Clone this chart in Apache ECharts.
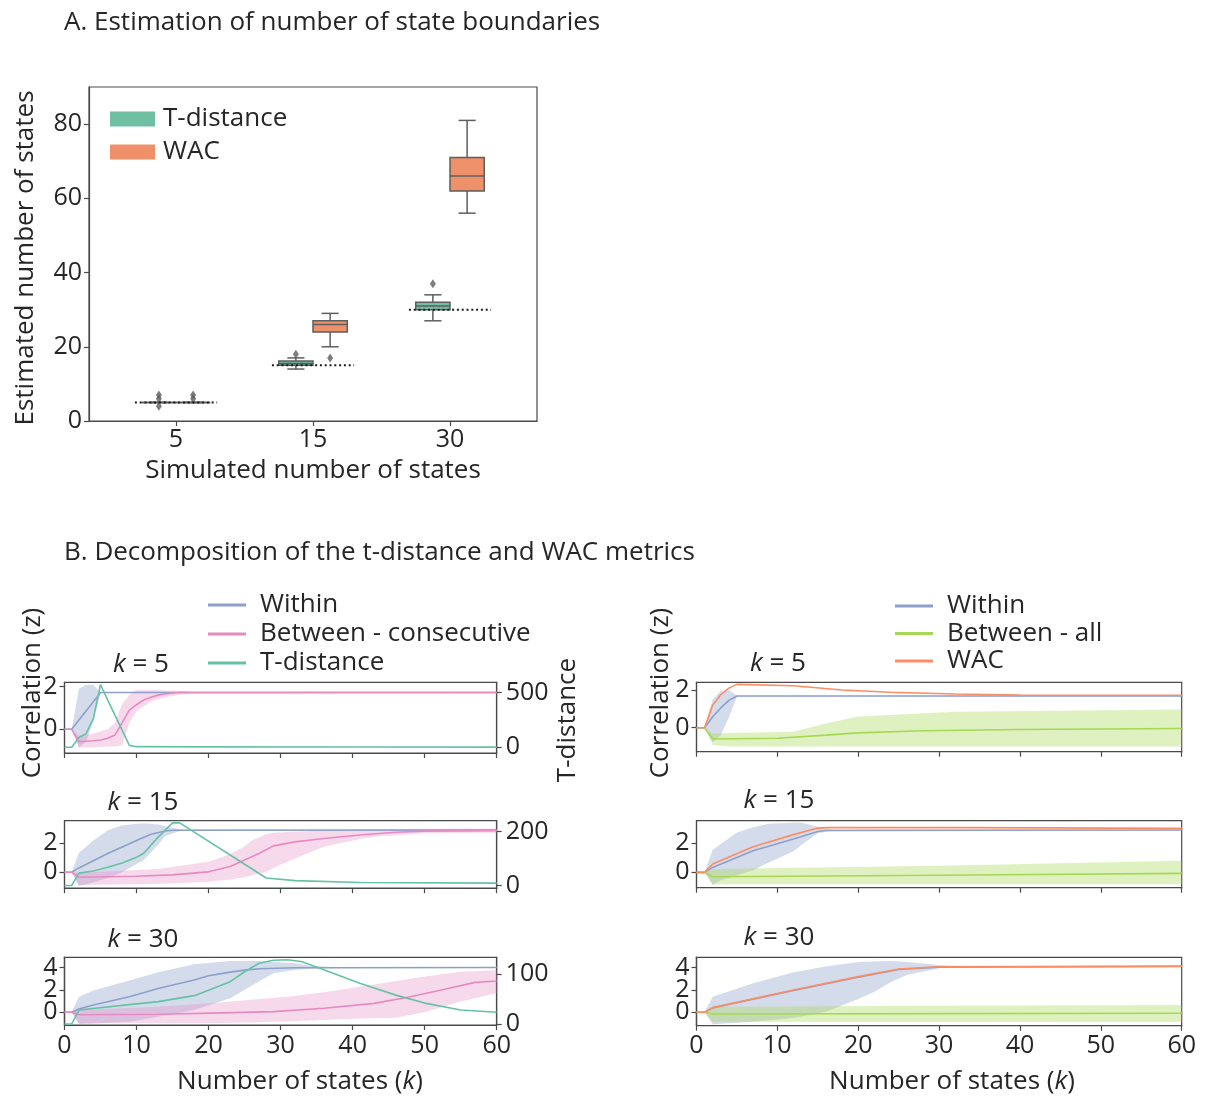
<!DOCTYPE html>
<html>
<head>
<meta charset="utf-8">
<script src="https://cdn.jsdelivr.net/npm/echarts@6/dist/echarts.min.js"></script>
<style>
  html, body { margin: 0; padding: 0; background: #ffffff; }
  #chart { width: 1208px; height: 1098px; }
</style>
</head>
<body>
<div id="chart"></div>
<script>
// ---------- Panel A: estimated number of states ----------
const simulatedStates = ['5', '15', '30'];
const trueStates = [5, 15, 30];
// box statistics per simulated count: [min, Q1, median, Q3, max]
const tdistBoxes = [[5, 5, 5, 5, 5], [14, 15, 15.5, 16.2, 17], [27, 30, 31, 32, 34]];
const wacBoxes = [[5, 5, 5, 5, 5], [20, 24, 26, 27, 29], [56, 62, 66, 71, 81]];
const tdistOutliers = [[4, 6, 7], [18], [37]];
const wacOutliers = [[6, 7], [17], []];
const stateTicks = [0, 20, 40, 60, 80];

// ---------- Panel B: decomposition, [k, value]; bands are [k, lower, upper] ----------
const kTicks = [0, 10, 20, 30, 40, 50, 60];
const corrTicksSmall = [0, 2];
const corrTicksOuter = [0, 4];
const corrTicksMiddle = [2];
const tdistTicks5 = [0, 500];
const tdistTicks15 = [0, 200];
const tdistTicks30 = [0, 100];

// t-distance side, k = 5
const within5 = [[0, 0], [1, 0], [2, 0.43], [3, 0.86], [4, 1.29], [5, 1.72], [60, 1.72]];
const within5Band = [[1, 0, 0], [2, -0.85, 1.9], [3, -0.6, 2.08], [4, 0.4, 2.08], [5, 1.72, 1.72], [60, 1.72, 1.72]];
const consec5 = [[0, 0], [1, 0], [2, -0.58], [3, -0.56], [4, -0.54], [5, -0.5], [6, -0.42], [7, -0.27], [8, 0.3], [9, 0.9], [10, 1.15], [11, 1.37], [12, 1.5], [13, 1.6], [14, 1.66], [15, 1.7], [16, 1.72], [60, 1.72]];
const consec5Band = [[1, 0, 0], [2, -0.85, -0.3], [4, -0.85, -0.2], [6, -0.8, 0.0], [7, -0.8, 0.3], [8, -0.75, 1.2], [9, 0.3, 1.6], [10, 0.85, 1.85], [12, 1.3, 1.85], [14, 1.5, 1.82], [16, 1.62, 1.8], [18, 1.68, 1.76], [60, 1.69, 1.75]];
const tdist5 = [[0, 0], [1, 0], [2, 90], [3, 125], [4, 260], [5, 575], [6, 432], [7, 295], [8, 157], [9, 18], [10, 6], [20, 4], [40, 3], [60, 2]];

// t-distance side, k = 15
const within15 = [[0, 0], [1, 0], [2, 0.3], [4, 0.8], [6, 1.3], [8, 1.75], [10, 2.2], [12, 2.62], [14, 2.85], [15, 2.9], [60, 2.92]];
const within15Band = [[1, 0, 0], [2, -0.95, 1.35], [4, -0.7, 2.2], [6, -0.4, 2.9], [8, 0, 3.25], [11, 0.85, 3.38], [13, 1.9, 3.3], [14, 2.5, 3.18], [16, 2.85, 2.95], [60, 2.88, 2.95]];
const consec15 = [[0, 0], [1, 0], [2, -0.34], [10, -0.28], [15, -0.18], [20, 0.03], [23, 0.4], [27, 1.3], [29, 1.82], [32, 2.1], [36, 2.33], [41, 2.57], [46, 2.76], [50, 2.84], [60, 2.87]];
const consec15Band = [[1, 0, 0], [2, -0.88, -0.03], [13, -0.81, 0.23], [20, -0.65, 0.73], [23, -0.5, 1.25], [25, -0.34, 1.8], [26, -0.2, 2.2], [28, 0.03, 2.62], [29, 0.3, 2.73], [32, 0.95, 2.8], [36, 1.77, 2.88], [41, 2.3, 2.96], [43, 2.46, 2.98], [50, 2.69, 3.0], [60, 2.73, 3.03]];
const tdist15 = [[0, 0], [1, 0], [2, 46], [4, 54], [6, 68], [8, 84], [10, 105], [11, 120], [13, 180], [15, 233], [16, 233], [28, 28], [32, 18], [41, 11], [60, 9]];

// t-distance side, k = 30
const within30 = [[0, 0], [1, 0], [2, 0.3], [4, 0.65], [9, 1.4], [13, 2.14], [18, 2.89], [20, 3.28], [23, 3.6], [25, 3.78], [27, 3.9], [32, 3.99], [60, 4.02]];
const within30Band = [[1, 0, 0], [2, -1.05, 1.4], [4, -1.0, 1.95], [9, -0.85, 2.85], [13, -0.4, 3.6], [18, 0.2, 4.3], [23, 1.25, 4.6], [27, 2.75, 4.6], [29, 3.5, 4.5], [32, 3.8, 4.4], [34, 3.9, 4.2], [37, 3.95, 4.05], [60, 3.98, 4.05]];
const consec30 = [[0, 0], [1, 0], [2, -0.22], [13, -0.18], [22, -0.05], [29, 0.06], [36, 0.36], [43, 0.8], [48, 1.4], [52, 1.95], [57, 2.68], [60, 2.8]];
const consec30Band = [[1, 0, 0], [2, -0.99, 0.2], [13, -0.99, 0.5], [22, -0.95, 0.9], [27, -0.9, 1.2], [31, -0.8, 1.4], [36, -0.69, 1.8], [41, -0.55, 2.3], [46, -0.48, 2.8], [50, 0, 3.2], [55, 0.96, 3.63], [60, 1.7, 3.78]];
const tdist30 = [[0, 0], [1, 0], [2, 28], [9, 39], [13, 45], [18, 57], [20, 68], [23, 85], [25, 105], [27, 122], [29, 128], [31, 129], [33, 125], [36, 109], [41, 82], [46, 58], [50, 42], [55, 28], [60, 23.5]];

// WAC side, k = 5
const withinW5 = [[0, 0], [1, 0], [2, 0.58], [3, 1.05], [4, 1.45], [5, 1.68], [60, 1.68]];
const withinW5Band = [[1, 0, 0], [2, -0.75, 1.5], [3, -0.4, 1.95], [4, 0.55, 2.0], [5, 1.66, 1.7], [60, 1.66, 1.7]];
const betweenAll5 = [[0, 0], [1, 0], [2, -0.6], [10, -0.56], [16, -0.39], [20, -0.27], [28, -0.16], [40, -0.09], [60, -0.04]];
const betweenAll5Band = [[1, 0, 0], [2, -0.92, -0.3], [4, -1.0, -0.28], [12, -1.0, -0.21], [16, -1.0, 0.23], [20, -1.0, 0.59], [32, -1.0, 0.85], [60, -1.0, 0.97]];
const wac5 = [[0, 0], [1, 0], [2, 1.2], [3, 1.75], [4, 2.1], [5, 2.3], [12, 2.23], [18, 2.0], [24, 1.88], [32, 1.79], [40, 1.73], [60, 1.72]];

// WAC side, k = 15
const withinW15 = [[0, 0], [1, 0], [2, 0.34], [7, 1.49], [12, 2.3], [15, 2.82], [16, 2.88], [60, 2.92]];
const withinW15Band = [[1, 0, 0], [2, -0.88, 1.55], [3, -0.55, 1.95], [5, -0.2, 2.75], [7, 0.15, 3.1], [9, 0.7, 3.35], [12, 1.45, 3.42], [13, 1.9, 3.42], [15, 2.7, 3.15], [17, 2.88, 2.95], [60, 2.88, 2.95]];
const betweenAll15 = [[0, 0], [1, 0], [2, -0.3], [30, -0.2], [60, -0.07]];
const betweenAll15Band = [[1, 0, 0], [2, -0.83, 0.23], [30, -0.83, 0.45], [60, -0.83, 0.8]];
const wac15 = [[0, 0], [1, 0], [2, 0.57], [7, 1.77], [12, 2.6], [15, 3.05], [16, 3.08], [33, 3.08], [60, 3.03]];

// WAC side, k = 30
const withinW30 = [[0, 0], [1, 0], [2, 0.4], [12, 1.95], [20, 3.15], [25, 3.83], [30, 4.05], [60, 4.1]];
const withinW30Band = [[1, 0, 0], [2, -1.08, 1.4], [7, -0.85, 2.6], [12, -0.5, 3.6], [16, 0.05, 4.1], [20, 1.2, 4.5], [22, 1.85, 4.55], [24, 2.7, 4.6], [26, 3.35, 4.5], [30, 3.95, 4.25], [33, 4.02, 4.12], [60, 4.05, 4.12]];
const betweenAll30 = [[0, 0], [1, 0], [2, -0.15], [30, -0.12], [60, -0.08]];
const betweenAll30Band = [[1, 0, 0], [2, -0.84, 0.5], [30, -0.84, 0.58], [60, -0.84, 0.66]];
const wac30 = [[0, 0], [1, 0], [2, 0.42], [12, 2.0], [20, 3.2], [25, 3.88], [30, 4.08], [60, 4.14]];

// ---------- styling ----------
const FONT = 'Open Sans';
const TEXT = '#262626';
const FRAME = '#4a4a4a';
const BOX_EDGE = '#5e5e5e';
const C_GREEN_BOX = '#6fc0a3';
const C_ORANGE_BOX = '#ee9069';
const C_WITHIN = '#8da0cb';
const C_CONSEC = '#e78ac3';
const C_TDIST = '#66c2a5';
const C_BETWEEN = '#a6d854';
const C_WAC = '#fc8d62';
const BOX_HALF = 0.25;

function rgba(hex, a) {
  const n = parseInt(hex.slice(1), 16);
  return `rgba(${(n >> 16) & 255},${(n >> 8) & 255},${n & 255},${a})`;
}

// grid geometry: [left, top, width, height]
const gridRects = [
  [89, 87, 448, 334],          // A
  [64.5, 682.3, 432.2, 70.7],  // t-distance, k = 5
  [64.5, 820.7, 432.2, 67.5],  // t-distance, k = 15
  [64.5, 957.3, 432.2, 67.7],  // t-distance, k = 30
  [696.5, 682.3, 485.2, 69.4], // WAC, k = 5
  [696.5, 820.7, 485.2, 67],   // WAC, k = 15
  [696.5, 957.3, 485.2, 68.4]  // WAC, k = 30
];

const grids = gridRects.map(r => ({
  left: r[0], top: r[1], width: r[2], height: r[3],
  show: true, borderColor: FRAME, borderWidth: 1.2, backgroundColor: 'transparent',
  containLabel: false
}));

const tickStyle = { show: true, inside: false, length: 5, lineStyle: { color: FRAME, width: 1.2 } };
const lineAxis = { show: true, onZero: false, lineStyle: { color: FRAME, width: 1.2 } };
const labelBase = { color: TEXT, fontFamily: FONT, fontSize: 25, hideOverlap: false };

function kAxis(gridIndex, showLabels) {
  return {
    type: 'value', gridIndex, min: 0, max: 60,
    axisLine: lineAxis,
    axisTick: Object.assign({}, tickStyle, { customValues: kTicks }),
    axisLabel: Object.assign({}, labelBase, { show: showLabels, customValues: kTicks, margin: 8 }),
    splitLine: { show: false }
  };
}

function valueAxis(gridIndex, min, max, ticks, position) {
  return {
    type: 'value', gridIndex, min, max, position,
    axisLine: lineAxis,
    axisTick: Object.assign({}, tickStyle, { customValues: ticks }),
    axisLabel: Object.assign({}, labelBase, { customValues: ticks, margin: position === 'right' ? 9 : 7 }),
    splitLine: { show: false }
  };
}

const xAxes = [
  {
    type: 'value', gridIndex: 0, min: -0.635, max: 2.635,
    axisLine: lineAxis,
    axisTick: Object.assign({}, tickStyle, { customValues: [0, 1, 2] }),
    axisLabel: Object.assign({}, labelBase, {
      customValues: [0, 1, 2], margin: 6,
      formatter: v => simulatedStates[Math.round(v)]
    }),
    splitLine: { show: false },
    name: 'Simulated number of states', nameLocation: 'middle', nameGap: 37,
    nameTextStyle: { color: TEXT, fontFamily: FONT, fontSize: 26 }
  },
  kAxis(1, false), kAxis(2, false), kAxis(3, true),
  kAxis(4, false), kAxis(5, false), kAxis(6, true)
];

const yAxes = [
  valueAxis(0, 0, 90, stateTicks, 'left'),
  valueAxis(1, -1.11, 2.2, corrTicksSmall, 'left'),    // 1
  valueAxis(1, -52, 595, tdistTicks5, 'right'),         // 2
  valueAxis(2, -1.1, 3.56, corrTicksSmall, 'left'),    // 3
  valueAxis(2, -10, 241, tdistTicks15, 'right'),        // 4
  valueAxis(3, -1.14, 4.93, corrTicksOuter, 'left'),   // 5
  valueAxis(3, -2, 134, tdistTicks30, 'right'),         // 6
  valueAxis(4, -1.27, 2.41, corrTicksSmall, 'left'),   // 7
  valueAxis(5, -1.06, 3.56, corrTicksSmall, 'left'),   // 8
  valueAxis(6, -1.2, 4.93, corrTicksOuter, 'left'),    // 9
  // the closely packed middle tick of the k = 30 panels sits on its own axis
  valueAxis(3, -1.14, 4.93, corrTicksMiddle, 'left'),  // 10
  valueAxis(6, -1.2, 4.93, corrTicksMiddle, 'left')    // 11
];

// ---------- series builders ----------
function boxSeries(name, boxes, side, fill) {
  return {
    type: 'custom', name, xAxisIndex: 0, yAxisIndex: 0, z: 3,
    data: boxes.map((b, i) => [i].concat(b)),
    encode: { x: 0, y: [1, 2, 3, 4, 5] },
    itemStyle: { color: fill },
    renderItem(params, api) {
      const c = api.value(0);
      const x0 = api.coord([side < 0 ? c - BOX_HALF : c, 0])[0];
      const x1 = api.coord([side < 0 ? c : c + BOX_HALF, 0])[0];
      const xm = (x0 + x1) / 2;
      const cap = (x1 - x0) / 4;
      const y = [1, 2, 3, 4, 5].map(d => api.coord([c, api.value(d)])[1]);
      const st = { stroke: BOX_EDGE, lineWidth: 1.5, fill: null };
      return {
        type: 'group',
        children: [
          { type: 'line', shape: { x1: xm, y1: y[1], x2: xm, y2: y[0] }, style: st },
          { type: 'line', shape: { x1: xm, y1: y[3], x2: xm, y2: y[4] }, style: st },
          { type: 'line', shape: { x1: xm - cap, y1: y[0], x2: xm + cap, y2: y[0] }, style: st },
          { type: 'line', shape: { x1: xm - cap, y1: y[4], x2: xm + cap, y2: y[4] }, style: st },
          { type: 'rect', shape: { x: x0, y: y[3], width: x1 - x0, height: y[1] - y[3] },
            style: { fill, stroke: BOX_EDGE, lineWidth: 1.5 } },
          { type: 'line', shape: { x1: x0, y1: y[2], x2: x1, y2: y[2] }, style: st }
        ]
      };
    }
  };
}

function outlierSeries(name, outliers, side) {
  return {
    type: 'scatter', name, xAxisIndex: 0, yAxisIndex: 0, z: 4,
    symbol: 'diamond', symbolSize: [6, 9],
    itemStyle: { color: BOX_EDGE },
    data: outliers.flatMap((vals, i) => vals.map(v => [i + side * BOX_HALF / 2, v]))
  };
}

function referenceLines() {
  return trueStates.map((k, i) => ({
    type: 'line', xAxisIndex: 0, yAxisIndex: 0, z: 5, symbol: 'none', silent: true,
    data: [[i - 0.3, k], [i + 0.3, k]],
    lineStyle: { color: '#1a1a1a', width: 2, type: [2, 2.8] }
  }));
}

function bandSeries(band, xi, yi, color) {
  return {
    type: 'custom', xAxisIndex: xi, yAxisIndex: yi, z: 1, silent: true, clip: true,
    data: band, encode: { x: 0, y: [1, 2] },
    renderItem(params, api) {
      if (params.dataIndexInside !== 0) return null;
      const n = params.dataInsideLength;
      const upper = [], lower = [];
      for (let i = 0; i < n; i++) {
        upper.push(api.coord([api.value(0, i), api.value(2, i)]));
        lower.push(api.coord([api.value(0, i), api.value(1, i)]));
      }
      return {
        type: 'polygon',
        shape: { points: upper.concat(lower.reverse()) },
        style: { fill: color, stroke: null }
      };
    }
  };
}

function lineSeries(name, data, xi, yi, color, z) {
  return {
    type: 'line', name, data, xAxisIndex: xi, yAxisIndex: yi, z: z || 3,
    symbol: 'none', showSymbol: false, clip: true,
    lineStyle: { color, width: 1.6 }, itemStyle: { color }
  };
}

const BAND_WITHIN = rgba(C_WITHIN, 0.38);
const BAND_CONSEC = rgba(C_CONSEC, 0.32);
const BAND_BETWEEN = rgba(C_BETWEEN, 0.36);

const series = [
  boxSeries('T-distance', tdistBoxes, -1, C_GREEN_BOX),
  boxSeries('WAC', wacBoxes, 1, C_ORANGE_BOX),
  outlierSeries('T-distance', tdistOutliers, -1),
  outlierSeries('WAC', wacOutliers, 1),
  ...referenceLines()
];

// t-distance decomposition panels: [grid, left y axis, right y axis, within, band, consec, band, tdist]
const tdistPanels = [
  [1, 1, 2, within5, within5Band, consec5, consec5Band, tdist5],
  [2, 3, 4, within15, within15Band, consec15, consec15Band, tdist15],
  [3, 5, 6, within30, within30Band, consec30, consec30Band, tdist30]
];
tdistPanels.forEach(([g, yl, yr, w, wb, c, cb, t]) => {
  series.push(
    bandSeries(wb, g, yl, BAND_WITHIN),
    bandSeries(cb, g, yl, BAND_CONSEC),
    lineSeries('Within', w, g, yl, C_WITHIN, 3),
    lineSeries('Between - consecutive', c, g, yl, C_CONSEC, 4),
    lineSeries('T-distance', t, g, yr, C_TDIST, 5)
  );
});

// WAC decomposition panels: [grid, y axis, within, band, between-all, band, wac]
const wacPanels = [
  [4, 7, withinW5, withinW5Band, betweenAll5, betweenAll5Band, wac5],
  [5, 8, withinW15, withinW15Band, betweenAll15, betweenAll15Band, wac15],
  [6, 9, withinW30, withinW30Band, betweenAll30, betweenAll30Band, wac30]
];
wacPanels.forEach(([g, y, w, wb, b, bb, wac]) => {
  series.push(
    bandSeries(wb, g, y, BAND_WITHIN),
    bandSeries(bb, g, y, BAND_BETWEEN),
    lineSeries('Within', w, g, y, C_WITHIN, 3),
    lineSeries('Between - all', b, g, y, C_BETWEEN, 4),
    lineSeries('WAC', wac, g, y, C_WAC, 5)
  );
});

// ---------- free-standing text ----------
function label(text, x, y, opts) {
  return Object.assign({
    type: 'text', x, y, silent: true,
    style: {
      text, fill: TEXT, fontFamily: FONT, fontSize: 26,
      textAlign: 'center', textVerticalAlign: 'middle',
      rich: { i: { fontStyle: 'italic', fontFamily: FONT, fontSize: 26, fill: TEXT } }
    }
  }, opts || {});
}

const graphics = [
  label('A. Estimation of number of state boundaries', 64, 23, {}),
  label('B. Decomposition of the t-distance and WAC metrics', 64, 553, {}),
  label('Estimated number of states', 26, 258, { rotation: Math.PI / 2 }),
  label('Correlation (z)', 33, 693, { rotation: Math.PI / 2 }),
  label('Correlation (z)', 661, 693, { rotation: Math.PI / 2 }),
  label('T-distance', 568, 720, { rotation: Math.PI / 2 }),
  label('{i|k} = 5', 141, 665),
  label('{i|k} = 15', 143, 803),
  label('{i|k} = 30', 143, 940),
  label('{i|k} = 5', 778, 664),
  label('{i|k} = 15', 779, 801),
  label('{i|k} = 30', 779, 938),
  label('Number of states ({i|k})', 300, 1082),
  label('Number of states ({i|k})', 952, 1082)
];
graphics[0].style.textAlign = 'left';
graphics[1].style.textAlign = 'left';

const legendText = { color: TEXT, fontFamily: FONT, fontSize: 26, lineHeight: 26 };

const option = {
  animation: false,
  backgroundColor: '#ffffff',
  textStyle: { fontFamily: FONT, color: TEXT },
  grid: grids,
  xAxis: xAxes,
  yAxis: yAxes,
  legend: [
    {
      left: 105, top: 101, orient: 'vertical', itemWidth: 45, itemHeight: 15, itemGap: 7,
      icon: 'rect', selectedMode: false,
      textStyle: Object.assign({ padding: [0, 0, 0, 3] }, legendText),
      data: [
        { name: 'T-distance', itemStyle: { color: C_GREEN_BOX } },
        { name: 'WAC', itemStyle: { color: C_ORANGE_BOX } }
      ]
    },
    {
      left: 203, top: 587, orient: 'vertical', itemWidth: 38, itemHeight: 3, itemGap: 3,
      icon: 'rect', selectedMode: false,
      textStyle: Object.assign({ padding: [0, 0, 0, 9] }, legendText),
      data: [
        { name: 'Within', itemStyle: { color: C_WITHIN } },
        { name: 'Between - consecutive', itemStyle: { color: C_CONSEC } },
        { name: 'T-distance', itemStyle: { color: C_TDIST } }
      ]
    },
    {
      left: 890, top: 588, orient: 'vertical', itemWidth: 38, itemHeight: 3, itemGap: 1.5,
      icon: 'rect', selectedMode: false,
      textStyle: Object.assign({ padding: [0, 0, 0, 9] }, legendText),
      data: [
        { name: 'Within', itemStyle: { color: C_WITHIN } },
        { name: 'Between - all', itemStyle: { color: C_BETWEEN } },
        { name: 'WAC', itemStyle: { color: C_WAC } }
      ]
    }
  ],
  graphic: { elements: graphics },
  series
};

const chart = echarts.init(document.getElementById('chart'));
chart.setOption(option);
</script>
</body>
</html>
